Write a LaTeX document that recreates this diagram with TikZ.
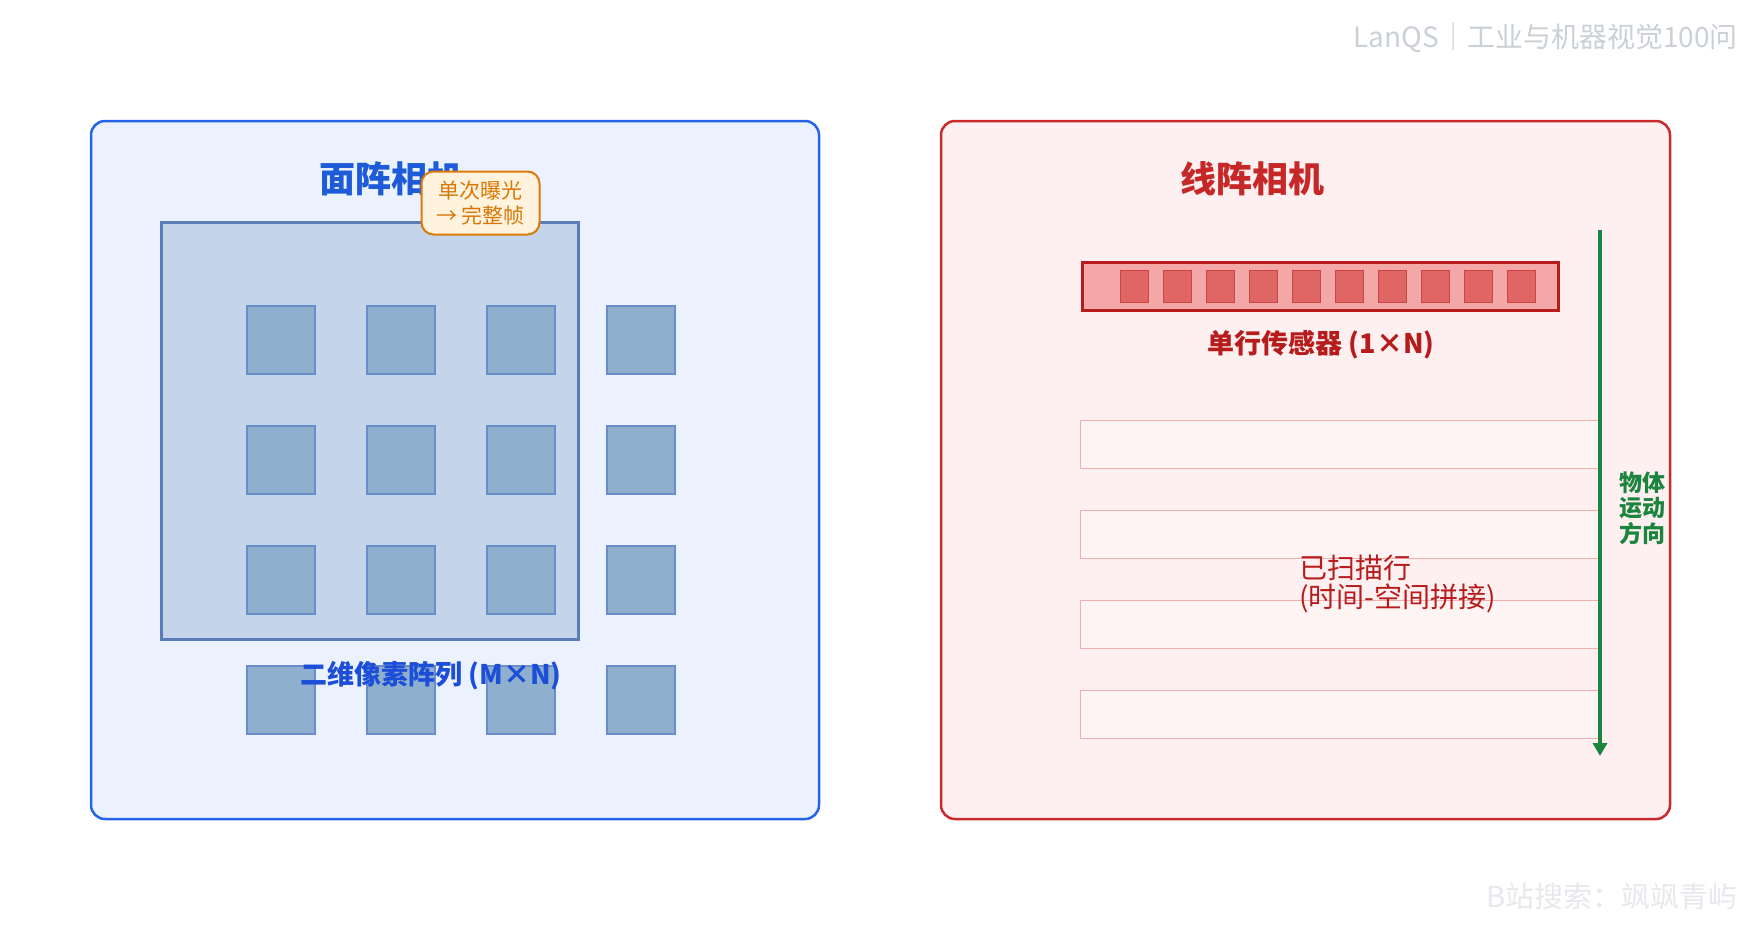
\documentclass[tikz,border=0pt]{standalone}
\usepackage{fontspec}
\setmainfont{Noto Sans CJK SC}
\usetikzlibrary{arrows.meta}
\definecolor{bluestroke}{HTML}{2563EB}
\definecolor{bluefill}{HTML}{EBF2FE}
\definecolor{bluetitle}{HTML}{1E5BD8}
\definecolor{framestroke}{HTML}{5A7DB8}
\definecolor{framefill}{HTML}{C4D4EA}
\definecolor{pixstroke}{HTML}{6A8CCB}
\definecolor{pixfill}{HTML}{8FAFCE}
\definecolor{bluelabel}{HTML}{1D4ED8}
\definecolor{badgefill}{HTML}{FFF3DE}
\definecolor{badgestroke}{HTML}{DD7A0A}
\definecolor{badgetext}{HTML}{D97706}
\definecolor{redstroke}{HTML}{CC2A2A}
\definecolor{redfill}{HTML}{FEF0F0}
\definecolor{redtitle}{HTML}{C62828}
\definecolor{barstroke}{HTML}{B71C1C}
\definecolor{barfill}{HTML}{F4A7A7}
\definecolor{cellfill}{HTML}{E06666}
\definecolor{cellstroke}{HTML}{CC4444}
\definecolor{rowstroke}{HTML}{F2AFAF}
\definecolor{redtext}{HTML}{B71C1C}
\definecolor{greenarrow}{HTML}{1B843D}
\definecolor{wmgray}{HTML}{CBD0D6}
\definecolor{wmlight}{HTML}{E6E8EC}
\tikzset{
  panelbox/.style={draw, line width=2.5pt, rounded corners=14pt, inner sep=0pt, minimum width=#1, minimum height=698pt},
  framebox/.style={draw=framestroke, fill=framefill, line width=3pt, inner sep=0pt, minimum width=417pt, minimum height=417pt},
  pixbox/.style={draw=pixstroke, fill=pixfill, line width=1.6pt, inner sep=0pt, minimum width=68.5pt, minimum height=68.5pt},
  badgebox/.style={draw=badgestroke, fill=badgefill, line width=2pt, rounded corners=12pt, inner sep=0pt, minimum width=118pt, minimum height=63pt, text=badgetext, align=center, font=\fontsize{21}{25}\selectfont},
  titletext/.style={font=\fontsize{36}{42}\selectfont\bfseries},
  labeltext/.style={font=\fontsize{27}{32}\selectfont\bfseries},
  barbox/.style={draw=barstroke, fill=barfill, line width=3.5pt, inner sep=0pt, minimum width=476pt, minimum height=48pt},
  cellbox/.style={draw=cellstroke, fill=cellfill, line width=1pt, inner sep=0pt, minimum width=28.5pt, minimum height=32.5pt},
  rowbox/.style={draw=rowstroke, fill=white, fill opacity=0.3, line width=1pt, inner sep=0pt, minimum width=520pt, minimum height=48pt},
}
\begin{document}
\begin{tikzpicture}[x=1pt, y=-1pt]
\useasboundingbox (0,0) rectangle (1760,930);
% watermarks
\node[anchor=east, text=wmgray, font=\fontsize{28}{32}\selectfont, inner sep=0pt] (wm1) at (1738,38) {LanQS｜工业与机器视觉100问};
\node[anchor=east, text=wmlight, font=\fontsize{29}{32}\selectfont, inner sep=0pt] (wm2) at (1738,896) {B站搜索：飒飒青屿};
% left panel
\node[panelbox=728pt, draw=bluestroke, fill=bluefill] (areapanel) at (455,470) {};
\node[titletext, text=bluetitle] (areatitle) at (391,179) {面阵相机};
\node[framebox] (frame) at (370.3,430.5) {};
\foreach \i in {0,1,2,3}{
  \foreach \j in {0,1,2,3}{
    \node[pixbox] (px\i\j) at ({281+120*\i},{340+120*\j}) {};
  }
}
\node[badgebox] (badge) at (480.5,203) {单次曝光\\→ 完整帧};
\node[labeltext, text=bluelabel] (arealabel) at (431,676) {二维像素阵列 (M×N)};
% right panel
\node[panelbox=729pt, draw=redstroke, fill=redfill] (linepanel) at (1305.5,470) {};
\node[titletext, text=redtitle] (linetitle) at (1252,179) {线阵相机};
\node[barbox] (bar) at (1320.5,286.5) {};
\foreach \k in {0,...,9}{
  \node[cellbox] (cell\k) at ({1134.5+43*\k},286.5) {};
}
\node[labeltext, text=redtext] (barlabel) at (1321,345) {单行传感器 (1×N)};
\foreach \r/\yy in {0/444,1/534,2/624,3/714}{
  \node[rowbox] (row\r) at (1340,\yy) {};
}
\node[anchor=west, align=left, text=redtext, font=\fontsize{28}{29}\selectfont, inner sep=0pt] (scanlabel) at (1299,584) {已扫描行\\(时间-空间拼接)};
\coordinate (arrowtop) at (1600,230);
\coordinate (arrowend) at (1600,756);
\draw[greenarrow, line width=4pt, -{Triangle[length=13pt,width=14pt]}] (arrowtop) -- (arrowend);
\node[align=center, text=greenarrow, font=\fontsize{23}{25.5}\selectfont\bfseries, inner sep=0pt] (motionlabel) at (1642,508) {物体\\运动\\方向};
\end{tikzpicture}
\end{document}
